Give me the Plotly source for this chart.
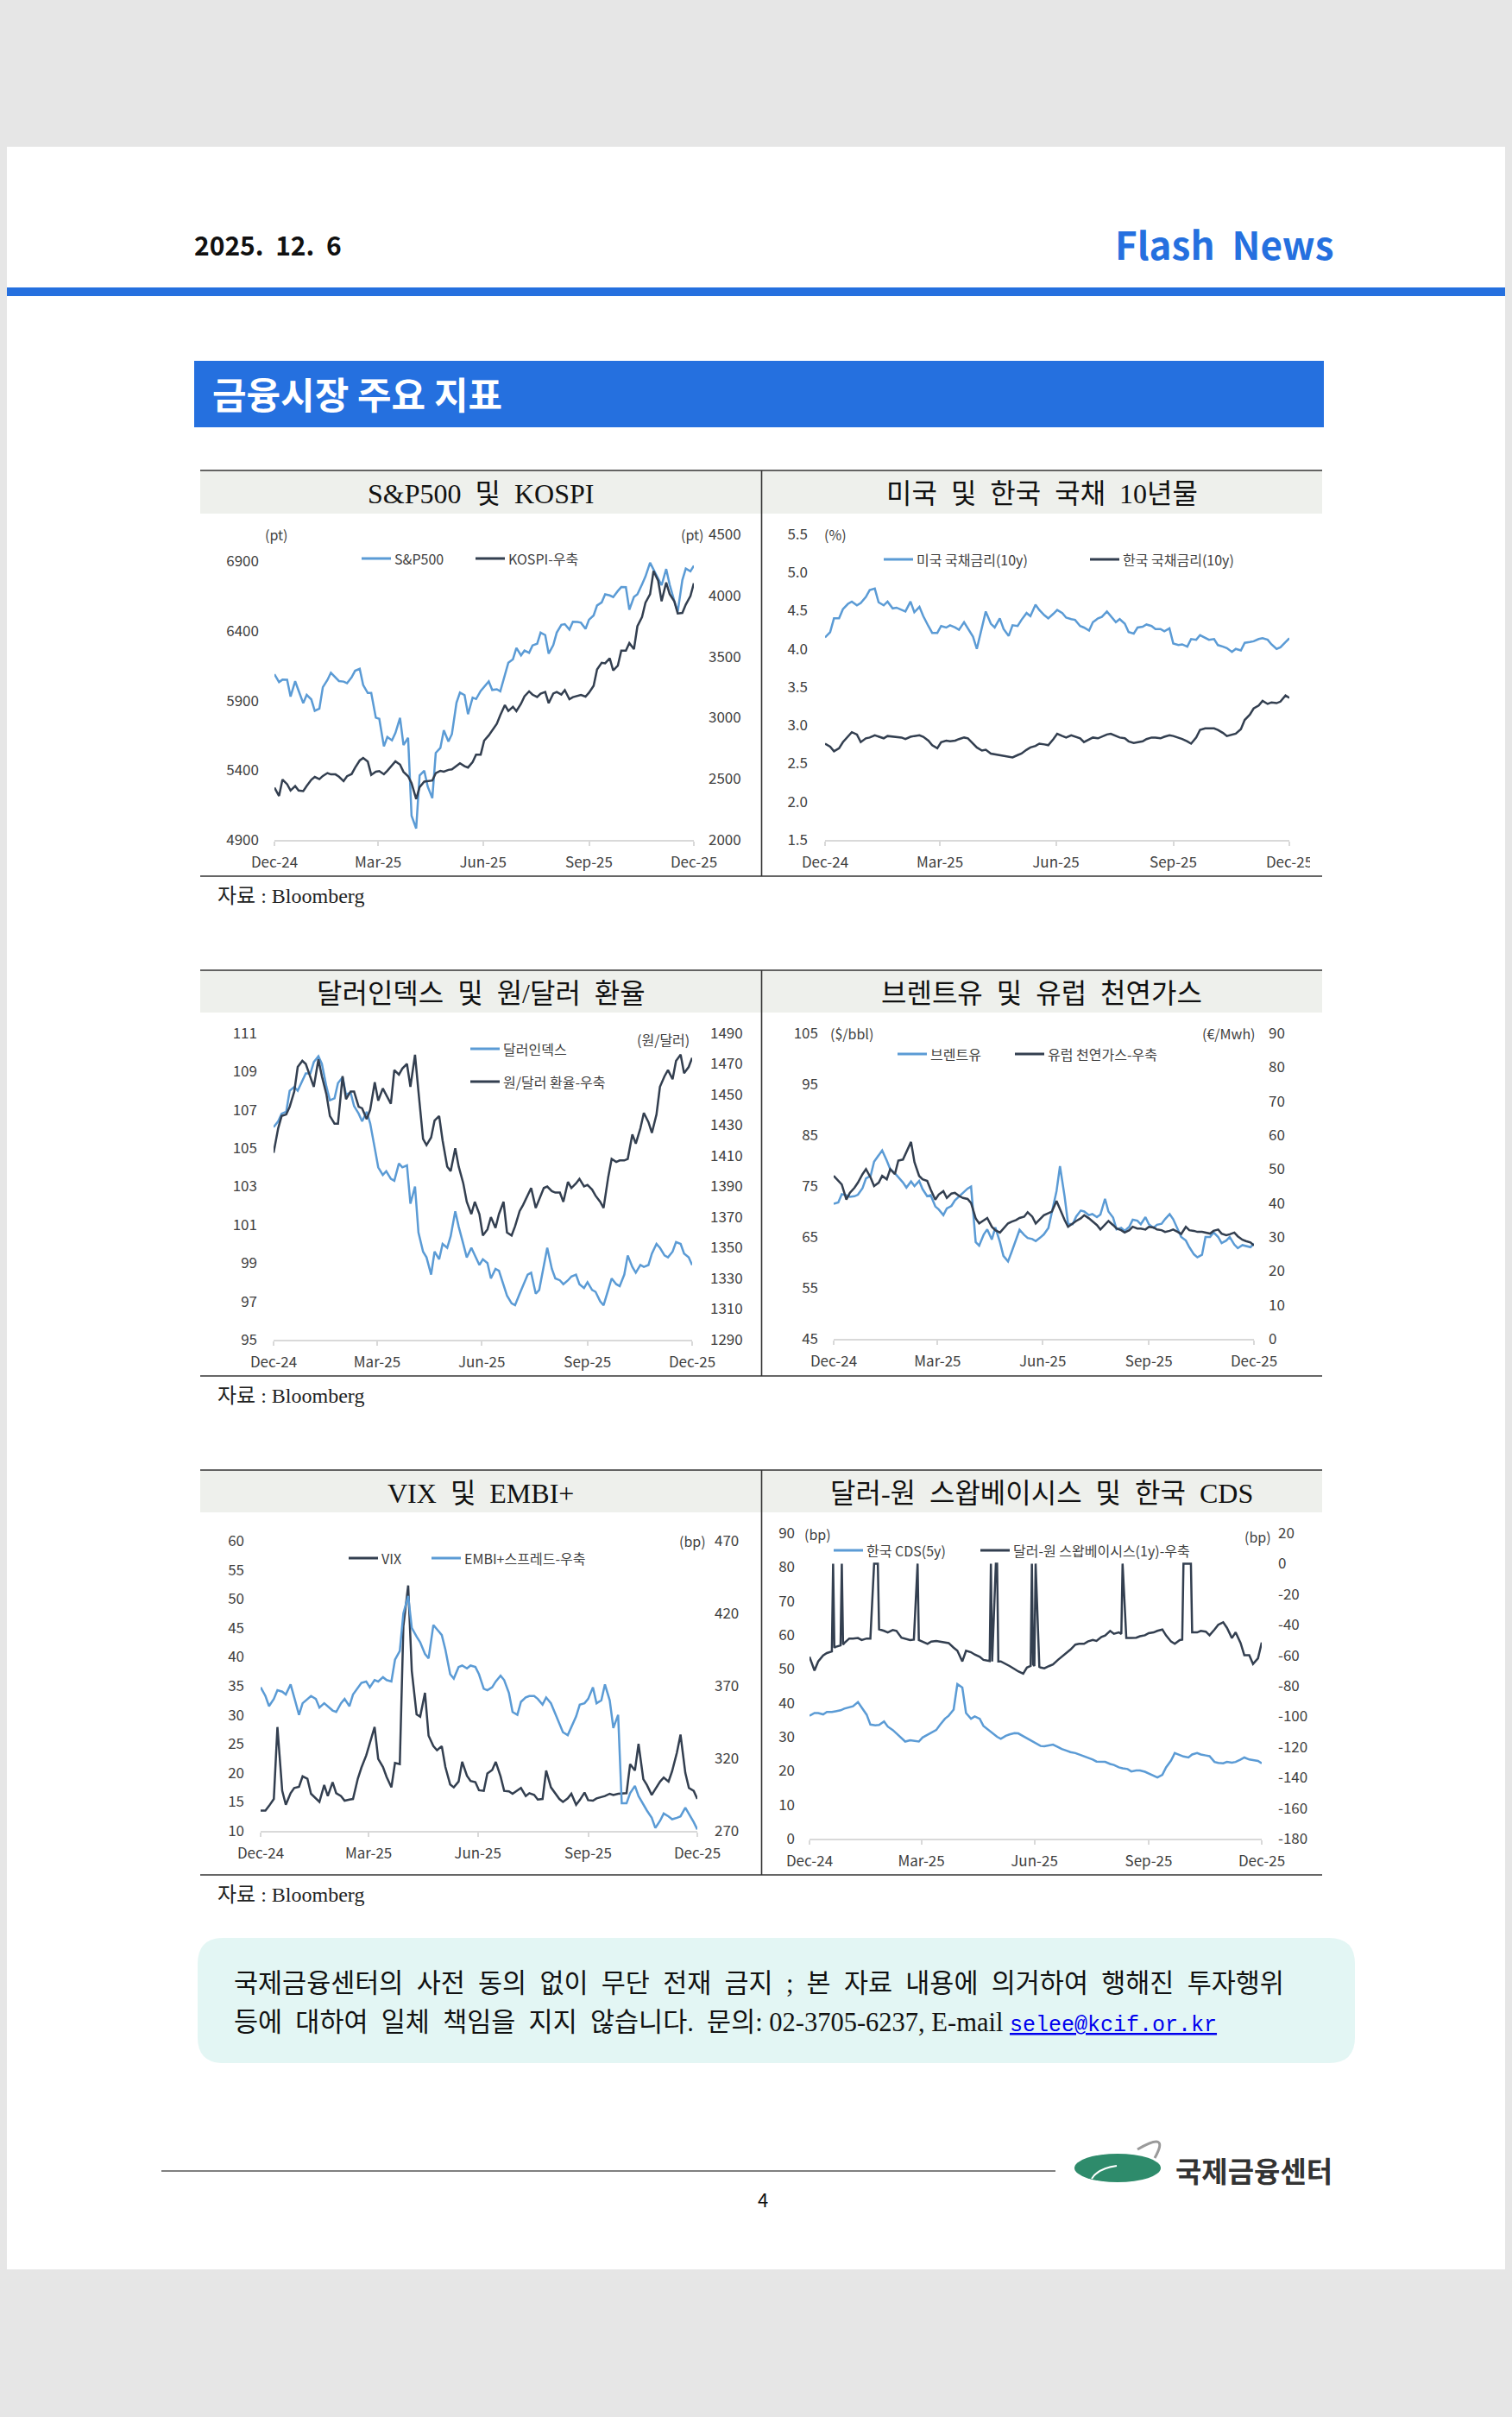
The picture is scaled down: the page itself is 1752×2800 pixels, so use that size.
import pandas as pd
import plotly.graph_objects as go

W, H = 1752, 2800
OFF = 8  # the page body offsets the figure by its default margin

# ---------------- categories (dates) ----------------
DATES = pd.date_range("2024-12-06", "2025-12-05", freq="W-FRI").union(
    pd.date_range("2024-12-06", "2025-12-05", freq="W-TUE"))
X_RANGE = ["2024-12-06", "2025-12-05"]
X_TICKS = ["2024-12-06", "2025-03-06", "2025-06-05", "2025-09-05", "2025-12-05"]
X_LABELS = ["Dec-24", "Mar-25", "Jun-25", "Sep-25", "Dec-25"]

# ---------------- chart 1: S&P500 / KOSPI ----------------
SPX = [6090, 6034, 6051, 6050, 5930, 6040, 5971, 5882, 5942, 5909,
       5827, 5843, 5997, 6049, 6101, 6067, 6041, 6037, 6026, 6068,
       6115, 6129, 6013, 5955, 5955, 5778, 5770, 5572, 5639, 5615,
       5668, 5777, 5581, 5633, 5074, 4982, 5363, 5397, 5283, 5200,
       5525, 5561, 5687, 5607, 5660, 5886, 5958, 5940, 5803, 5922,
       5912, 5970, 6000, 6038, 5977, 5982, 5968, 6092, 6173, 6198,
       6279, 6226, 6260, 6244, 6297, 6309, 6389, 6371, 6238, 6299,
       6389, 6445, 6450, 6411, 6467, 6466, 6460, 6416, 6482, 6512,
       6584, 6606, 6664, 6656, 6644, 6688, 6716, 6715, 6553, 6645,
       6664, 6736, 6792, 6891, 6840, 6771, 6729, 6846, 6734, 6617,
       6540, 6766, 6849, 6829, 6870]
KOSPI = [2428, 2360, 2494, 2456, 2404, 2440, 2404, 2399, 2441, 2492,
         2515, 2497, 2523, 2547, 2536, 2536, 2517, 2481, 2521, 2539,
         2591, 2650, 2670, 2641, 2532, 2558, 2563, 2537, 2566, 2612,
         2643, 2616, 2557, 2521, 2465, 2334, 2432, 2477, 2483, 2486,
         2546, 2565, 2559, 2573, 2577, 2608, 2627, 2603, 2592, 2637,
         2697, 2698, 2812, 2855, 2895, 2950, 3021, 3103, 3055, 3089,
         3054, 3114, 3175, 3215, 3188, 3169, 3196, 3210, 3119, 3198,
         3210, 3189, 3225, 3151, 3168, 3179, 3186, 3172, 3205, 3260,
         3395, 3449, 3445, 3486, 3386, 3425, 3549, 3549, 3610, 3561,
         3748, 3823, 3941, 4010, 4200, 4121, 3953, 4106, 4011, 3953,
         3853, 3857, 3926, 3995, 4100]
C1_LEFT_TICKS = [4900, 5400, 5900, 6400, 6900]
C1_RIGHT_TICKS = [2000, 2500, 3000, 3500, 4000, 4500]

# ---------------- chart 2: US / KR 10y ----------------
US10Y = [4.15, 4.22, 4.40, 4.40, 4.52, 4.59, 4.62, 4.57, 4.60, 4.68,
         4.77, 4.79, 4.61, 4.57, 4.62, 4.53, 4.54, 4.51, 4.49, 4.62,
         4.48, 4.55, 4.43, 4.30, 4.21, 4.21, 4.30, 4.28, 4.31, 4.28,
         4.25, 4.35, 4.27, 4.16, 4.00, 4.29, 4.49, 4.33, 4.28, 4.40,
         4.26, 4.17, 4.31, 4.30, 4.38, 4.47, 4.43, 4.58, 4.51, 4.44,
         4.40, 4.46, 4.51, 4.47, 4.41, 4.39, 4.38, 4.30, 4.28, 4.24,
         4.35, 4.40, 4.42, 4.49, 4.43, 4.35, 4.39, 4.33, 4.22, 4.20,
         4.28, 4.29, 4.32, 4.30, 4.26, 4.26, 4.23, 4.27, 4.07, 4.05,
         4.06, 4.03, 4.13, 4.12, 4.18, 4.15, 4.12, 4.13, 4.05, 4.03,
         4.01, 3.96, 4.00, 3.98, 4.08, 4.09, 4.10, 4.13, 4.14, 4.12,
         4.06, 4.00, 4.02, 4.09, 4.14]
KR10Y = [2.76, 2.72, 2.66, 2.70, 2.78, 2.86, 2.91, 2.88, 2.78, 2.83,
         2.84, 2.87, 2.85, 2.83, 2.86, 2.85, 2.85, 2.84, 2.82, 2.85,
         2.86, 2.87, 2.85, 2.80, 2.74, 2.70, 2.78, 2.80, 2.79, 2.80,
         2.82, 2.84, 2.83, 2.76, 2.71, 2.67, 2.68, 2.63, 2.62, 2.61,
         2.60, 2.59, 2.58, 2.61, 2.63, 2.68, 2.71, 2.73, 2.76, 2.75,
         2.74, 2.82, 2.89, 2.86, 2.84, 2.87, 2.85, 2.83, 2.78, 2.81,
         2.84, 2.83, 2.85, 2.88, 2.89, 2.86, 2.84, 2.83, 2.79, 2.77,
         2.78, 2.79, 2.82, 2.84, 2.84, 2.83, 2.85, 2.87, 2.86, 2.84,
         2.82, 2.79, 2.76, 2.84, 2.94, 2.96, 2.96, 2.96, 2.94, 2.90,
         2.86, 2.88, 2.89, 2.95, 3.07, 3.14, 3.22, 3.26, 3.32, 3.28,
         3.30, 3.29, 3.31, 3.39, 3.36]
C2_TICKS = [1.5, 2.0, 2.5, 3.0, 3.5, 4.0, 4.5, 5.0, 5.5]

# ---------------- chart 3: Dollar index / KRW ----------------
DXY = [106.1, 106.4, 106.8, 106.9, 108.0, 108.2, 108.0, 108.5, 108.9, 108.9,
       109.5, 109.8, 109.4, 108.2, 107.5, 107.6, 108.4, 108.7, 107.8, 107.9,
       107.2, 106.8, 106.4, 106.9, 106.3, 105.0, 104.0, 103.6, 103.8, 103.4,
       103.3, 104.2, 104.0, 104.1, 102.1, 103.0, 100.6, 99.6, 99.3, 98.4,
       99.6, 99.2, 100.0, 99.8, 100.4, 101.7, 100.9, 100.0, 99.3, 99.8,
       99.4, 98.9, 99.2, 99.0, 98.2, 98.7, 98.6, 97.8, 97.3, 96.9,
       96.8, 97.4, 97.8, 98.4, 98.5, 97.4, 97.6, 98.8, 99.8, 98.7,
       98.2, 98.1, 97.9, 98.1, 98.3, 98.4, 97.9, 97.7, 98.0, 97.6,
       97.5, 97.0, 96.8, 97.6, 98.2, 97.9, 97.8, 98.4, 99.4, 98.8,
       98.5, 98.9, 98.8, 98.9, 99.5, 100.0, 99.8, 99.4, 99.3, 99.6,
       100.1, 100.0, 99.5, 99.3, 98.9]
KRW = [1412, 1428, 1436, 1437, 1442, 1452, 1468, 1472, 1470, 1462,
       1455, 1473, 1462, 1450, 1436, 1431, 1431, 1462, 1447, 1452,
       1452, 1442, 1441, 1434, 1440, 1458, 1446, 1454, 1450, 1444,
       1466, 1463, 1467, 1470, 1455, 1476, 1452, 1421, 1417, 1422,
       1433, 1436, 1420, 1403, 1400, 1415, 1403, 1392, 1380, 1372,
       1380, 1372, 1358, 1362, 1370, 1363, 1372, 1380, 1360, 1358,
       1364, 1374, 1378, 1384, 1389, 1376, 1382, 1389, 1390, 1387,
       1386, 1386, 1380, 1393, 1389, 1392, 1395, 1390, 1391, 1388,
       1384, 1380, 1376, 1396, 1408, 1406, 1407, 1407, 1408, 1424,
       1418, 1428, 1438, 1432, 1425, 1437, 1455, 1462, 1466, 1460,
       1472, 1476, 1464, 1468, 1474]
C3_LEFT_TICKS = [95, 97, 99, 101, 103, 105, 107, 109, 111]
C3_RIGHT_TICKS = [1290, 1310, 1330, 1350, 1370, 1390, 1410, 1430, 1450, 1470, 1490]

# ---------------- chart 4: Brent / EU gas ----------------
BRENT = [71.5, 71.8, 73.4, 73.2, 72.9, 73.0, 73.3, 74.6, 76.5, 77.0,
         79.8, 81.0, 82.0, 80.0, 78.3, 77.5, 76.8, 75.7, 74.7, 75.9,
         75.0, 76.0, 74.4, 73.0, 73.2, 71.0, 70.4, 69.3, 70.6, 71.1,
         72.2, 73.0, 73.6, 74.5, 74.9, 64.0, 63.3, 65.5, 66.5, 64.5,
         66.9, 64.0, 61.3, 60.2, 62.0, 64.5, 66.4, 65.4, 64.8, 64.6,
         64.2, 64.9, 65.5, 66.8, 69.8, 74.0, 78.9, 73.0, 67.6, 67.5,
         69.0, 70.2, 70.0, 69.3, 69.5, 68.9, 69.4, 72.5, 70.0, 68.8,
         66.5, 66.8, 66.2, 67.0, 68.4, 68.2, 67.5, 68.9, 67.5, 66.8,
         67.4, 67.6, 68.5, 69.5, 68.5, 66.5, 65.0, 64.3, 63.0, 61.6,
         61.0, 61.5, 65.0, 65.0, 65.9, 65.0, 63.8, 64.3, 65.0, 63.5,
         62.8, 63.4, 63.2, 63.0, 63.7]
GAS = [48.0, 46.5, 45.5, 41.0, 43.0, 44.5, 46.0, 48.5, 50.0, 47.5,
       45.0, 46.0, 48.0, 47.0, 50.0, 48.5, 52.5, 52.8, 55.0, 58.0,
       52.0, 48.0, 47.0, 46.5, 44.0, 41.0, 42.5, 43.5, 41.5, 42.8,
       43.0, 42.0, 41.5, 41.2, 40.0, 35.5, 34.0, 35.0, 35.6, 33.0,
       32.0, 31.3, 32.5, 34.0, 34.5, 35.0, 35.6, 36.0, 37.3, 36.0,
       34.0, 35.5, 36.4, 37.0, 37.5, 40.6, 38.0, 35.0, 33.0, 34.0,
       34.7, 35.5, 36.4, 35.5, 34.7, 33.5, 32.2, 33.5, 34.7, 33.5,
       32.5, 32.0, 31.3, 32.0, 33.0, 32.5, 32.5, 32.2, 33.0, 32.8,
       32.2, 32.0, 31.5, 31.8, 32.2, 31.5, 30.9, 33.0, 32.0, 31.8,
       31.5, 31.5, 31.3, 31.0, 31.8, 32.2, 31.0, 30.5, 30.8, 31.3,
       30.2, 29.2, 28.8, 28.4, 27.5]
C4_LEFT_TICKS = [45, 55, 65, 75, 85, 95, 105]
C4_RIGHT_TICKS = [0, 10, 20, 30, 40, 50, 60, 70, 80, 90]

# ---------------- chart 5: VIX / EMBI+ ----------------
VIX = [13.5, 13.5, 14.3, 15.5, 27.9, 16.9, 14.5, 16.5, 17.4, 17.6,
       19.4, 19.0, 16.4, 15.6, 15.0, 17.9, 16.0, 18.4, 16.5, 16.0,
       15.2, 15.4, 15.5, 19.0, 20.9, 23.0, 25.0, 27.9, 22.4, 21.0,
       19.3, 17.5, 21.7, 21.5, 45.3, 52.3, 37.6, 30.1, 29.7, 33.8,
       26.4, 24.6, 23.9, 24.6, 21.0, 18.0, 17.5, 18.5, 21.9, 19.5,
       18.6, 18.4, 17.0, 16.9, 19.9, 20.5, 21.9, 19.4, 16.9, 16.8,
       16.4, 17.0, 17.4, 16.0, 16.5, 16.2, 15.4, 15.5, 20.4, 17.5,
       16.6, 15.5, 15.0, 15.6, 16.4, 14.5, 15.3, 16.6, 15.3, 15.2,
       15.6, 15.8, 16.0, 16.4, 16.2, 16.4, 16.4, 16.5, 21.5, 20.4,
       25.0, 18.9, 17.9, 16.2, 17.2, 18.5, 19.2, 18.5, 20.3, 23.5,
       26.6, 20.0, 17.4, 16.9, 15.5]
EMBI = [369, 363, 356, 361, 367, 366, 364, 371, 362, 350,
        358, 361, 363, 361, 355, 358, 356, 353, 352, 358,
        361, 356, 364, 369, 372, 373, 369, 374, 373, 376,
        374, 373, 388, 394, 420, 432, 410, 404, 400, 392,
        389, 412, 409, 405, 395, 378, 375, 383, 384, 382,
        384, 383, 378, 368, 367, 369, 373, 377, 374, 365,
        352, 350, 359, 362, 363, 363, 361, 357, 362, 358,
        352, 344, 338, 336, 342, 349, 357, 358, 361, 369,
        358, 360, 371, 360, 341, 350, 289, 289, 296, 301,
        294, 288, 284, 279, 272, 277, 282, 280, 278, 279,
        280, 286, 282, 276, 271]
C5_LEFT_TICKS = [10, 15, 20, 25, 30, 35, 40, 45, 50, 55, 60]
C5_RIGHT_TICKS = [270, 320, 370, 420, 470]

# ---------------- chart 6: Korea CDS / swap basis ----------------
CDS = [36.2, 37.0, 37.0, 36.6, 37.3, 37.3, 37.5, 37.8, 38.3, 38.6,
       39.0, 40.2, 38.7, 36.5, 33.6, 33.4, 33.5, 34.5, 33.0, 32.0,
       31.0, 29.5, 28.6, 29.0, 28.8, 28.6, 29.8, 30.6, 31.3, 32.0,
       33.5, 35.3, 36.2, 38.0, 45.5, 44.5, 37.0, 35.3, 36.0, 35.3,
       33.2, 32.0, 31.1, 30.0, 29.4, 30.3, 30.7, 31.1, 31.0, 30.2,
       29.5, 28.7, 28.0, 27.3, 27.2, 27.4, 27.7, 27.0, 26.4, 25.9,
       25.5, 25.2, 24.8, 24.3, 23.8, 23.3, 22.7, 22.6, 22.6, 22.0,
       21.7, 21.0, 20.7, 20.5, 19.8, 20.1, 20.1, 19.7, 19.1, 18.5,
       18.0, 18.8, 21.0, 23.0, 25.2, 24.6, 24.2, 23.9, 24.8, 25.2,
       24.8, 24.5, 24.3, 22.6, 22.3, 22.2, 22.6, 22.4, 22.6, 23.3,
       23.9, 23.3, 23.1, 22.9, 22.2]
SWAP_DATES = ["2024-12-06", "2024-12-10", "2024-12-13", "2024-12-17", "2024-12-20",
              "2024-12-24", "2024-12-25", "2024-12-26", "2024-12-27", "2024-12-31",
              "2025-01-01", "2025-01-02", "2025-01-03", "2025-01-07", "2025-01-10",
              "2025-01-14", "2025-01-17", "2025-01-21", "2025-01-24", "2025-01-27",
              "2025-01-30", "2025-01-31", "2025-02-04", "2025-02-07", "2025-02-11",
              "2025-02-14", "2025-02-18", "2025-02-21", "2025-02-25", "2025-02-28",
              "2025-03-03", "2025-03-04", "2025-03-07", "2025-03-11", "2025-03-14",
              "2025-03-18", "2025-03-21", "2025-03-25", "2025-03-28", "2025-04-01",
              "2025-04-04", "2025-04-08", "2025-04-11", "2025-04-15", "2025-04-18",
              "2025-04-22", "2025-04-25", "2025-04-30", "2025-05-01", "2025-05-02",
              "2025-05-05", "2025-05-06", "2025-05-07", "2025-05-09", "2025-05-13",
              "2025-05-16", "2025-05-20", "2025-05-23", "2025-05-27", "2025-05-30",
              "2025-06-02", "2025-06-03", "2025-06-04", "2025-06-05", "2025-06-06",
              "2025-06-09", "2025-06-10", "2025-06-13", "2025-06-17", "2025-06-20",
              "2025-06-24", "2025-06-27", "2025-07-01", "2025-07-04", "2025-07-08",
              "2025-07-11", "2025-07-15", "2025-07-18", "2025-07-22", "2025-07-25",
              "2025-07-29", "2025-08-01", "2025-08-05", "2025-08-08", "2025-08-12",
              "2025-08-14", "2025-08-15", "2025-08-18", "2025-08-22", "2025-08-26",
              "2025-08-29", "2025-09-02", "2025-09-05", "2025-09-09", "2025-09-12",
              "2025-09-16", "2025-09-19", "2025-09-23", "2025-09-26", "2025-09-30",
              "2025-10-02", "2025-10-03", "2025-10-09", "2025-10-10", "2025-10-14",
              "2025-10-17", "2025-10-21", "2025-10-24", "2025-10-28", "2025-10-31",
              "2025-11-04", "2025-11-07", "2025-11-11", "2025-11-14", "2025-11-18",
              "2025-11-21", "2025-11-25", "2025-11-28", "2025-12-02", "2025-12-05"]
SWAP = [-61, -70, -64, -60, -58.5,
        -57.5, 0, -55, -54.5, -53.5,
        0, -53, -52, -49, -49,
        -48.7, -50, -49, -49, 0,
        0, -43, -44, -45, -43.5,
        -44, -48.5, -49, -50, -49.7,
        0, -50, -51, -52.5, -51,
        -50.6, -51, -51.5, -52, -55,
        -57, -64, -57, -58, -59.5,
        -61, -63, -63.8, 0, -64,
        0, 0, -64, -64, -65.5,
        -67, -69, -70.5, -72, -68,
        -67, 0, -66, -67, 0,
        -67.6, -68, -68.5, -67, -66,
        -63, -61, -58, -56.3, -53,
        -52.5, -52.5, -51, -50, -50.6,
        -48, -47, -44, -45.9, -45,
        -46, 0, -48.7, -48.7, -48.5,
        -47.5, -46.9, -45.5, -45, -44,
        -43.1, -47, -51, -52.5, -50,
        -49.7, 0, 0, -45, -45,
        -44, -44.5, -46.9, -43.1, -40,
        -38.4, -42, -48.7, -45, -52,
        -60, -60, -65.7, -62, -51.6]
C6_LEFT_TICKS = [0, 10, 20, 30, 40, 50, 60, 70, 80, 90]
C6_RIGHT_TICKS = [-180, -160, -140, -120, -100, -80, -60, -40, -20, 0, 20]

for s in (SPX, KOSPI, US10Y, KR10Y, DXY, KRW, BRENT, GAS, VIX, EMBI, CDS):
    assert len(s) == len(DATES), len(s)
assert len(SWAP) == len(SWAP_DATES)

# ---------------- style ----------------
SANS = "Noto Sans CJK KR, Noto Sans, sans-serif"
SERIF = "Liberation Serif, Noto Sans CJK KR, serif"
LIGHT = "#5b9bd5"
DARK = "#333f50"
TICKC = "#404040"
BLUE = "#2570df"
PAGE_BG = "#e6e6e6"


def fx(v):
    return (v - OFF) / W


def fy(v):
    return 1 - (v - OFF) / H


fig = go.Figure()
layout = dict(width=W, height=H,
              margin=dict(l=0, r=0, t=0, b=0, pad=0, autoexpand=False),
              paper_bgcolor=PAGE_BG, plot_bgcolor="rgba(0,0,0,0)",
              showlegend=False, font=dict(family=SANS))
shapes = []
annotations = []


def text(t, x, y, size, color="#222", family=SANS, xanchor="left", yanchor="middle"):
    annotations.append(dict(text=t, x=fx(x), y=fy(y), xref="paper", yref="paper",
                            showarrow=False, xanchor=xanchor, yanchor=yanchor,
                            font=dict(size=size, color=color, family=family)))


def rect(x0, y0, x1, y1, fill, layer="below"):
    shapes.append(dict(type="rect", xref="paper", yref="paper", x0=fx(x0), x1=fx(x1),
                       y0=fy(y0), y1=fy(y1), fillcolor=fill, line=dict(width=0), layer=layer))


def hline(x0, x1, y, color, width, layer="above"):
    shapes.append(dict(type="line", xref="paper", yref="paper", x0=fx(x0), x1=fx(x1),
                       y0=fy(y), y1=fy(y), line=dict(color=color, width=width), layer=layer))


def vline(x, y0, y1, color, width, layer="above"):
    shapes.append(dict(type="line", xref="paper", yref="paper", x0=fx(x), x1=fx(x),
                       y0=fy(y0), y1=fy(y1), line=dict(color=color, width=width), layer=layer))


def axname(kind, n):
    return kind + ("" if n == 1 else str(n))


def labels(ticks, fmt="{:g}"):
    return [fmt.format(v) for v in ticks]


def setup_chart(n, x0, x1, yt, yb, lrange, lticks, lfmt, lstand,
                rrange=None, rticks=None, rstand=0):
    xid = axname("x", n)
    lid = axname("y", 2 * n - 1)
    rid = axname("y", 2 * n)
    layout[axname("xaxis", n)] = dict(
        domain=[fx(x0), fx(x1)], anchor=lid, type="date", range=X_RANGE,
        tickvals=X_TICKS, ticktext=X_LABELS, showgrid=False, zeroline=False,
        showline=True, linecolor="#d9d9d9", linewidth=2, ticks="outside",
        ticklen=5, tickwidth=2, tickcolor="#d9d9d9", ticklabelstandoff=5,
        automargin=False,
        tickfont=dict(size=17, color=TICKC, family=SANS), fixedrange=True)
    layout[axname("yaxis", 2 * n - 1)] = dict(
        domain=[fy(yb), fy(yt)], anchor=xid, range=lrange, tickvals=lticks,
        ticktext=labels(lticks, lfmt), showgrid=False, zeroline=False, showline=False,
        ticks="", ticklabelstandoff=lstand, automargin=False,
        tickfont=dict(size=17, color=TICKC, family=SANS), fixedrange=True)
    if rrange is not None:
        layout[axname("yaxis", 2 * n)] = dict(
            domain=[fy(yb), fy(yt)], anchor=xid, overlaying=lid, side="right",
            range=rrange, tickvals=rticks, ticktext=labels(rticks), showgrid=False,
            zeroline=False, showline=False, ticks="", ticklabelstandoff=rstand,
            automargin=False,
            tickfont=dict(size=17, color=TICKC, family=SANS), fixedrange=True)
    return xid, lid, rid


def line(xs, ys, xid, yid, color):
    fig.add_trace(go.Scatter(x=xs, y=ys, xaxis=xid, yaxis=yid, mode="lines",
                             line=dict(color=color, width=2.5), hoverinfo="skip",
                             showlegend=False))


def legend_item(x, y, label, color):
    hline(x, x + 34, y, color, 3)
    text(label, x + 36, y, 16, TICKC)


# ---------------- page chrome ----------------
rect(5, 170, 1745, 2629, "white")
text("<b>2025.  12.  6</b>", 223, 283, 30, "#111")
text("<b>Flash  News</b>", 1548, 282, 44, BLUE, xanchor="right")
rect(5, 333, 1745, 343, BLUE)
rect(225, 418, 1534, 495, BLUE)
text("<b>금융시장 주요 지표</b>", 244, 455, 43, "white")

ROWS = [(545, 595, 1015), (1124, 1173, 1594), (1703, 1752, 2172)]
for top, bar, bot in ROWS:
    rect(232, top, 1532, bar, "#eef0ec")
    hline(232, 1532, top, "#333", 1.6)
    hline(232, 1532, bot, "#333", 1.6)
    vline(882.5, top, bot, "#333", 1.6)
    text("자료 : Bloomberg", 250, bot + 23, 24, "#222", SERIF)

TITLES = [("S&P500  및  KOSPI", 557, 572), ("미국  및  한국  국채  10년물", 1207, 572),
          ("달러인덱스  및  원/달러  환율", 557, 1151), ("브렌트유  및  유럽  천연가스", 1207, 1151),
          ("VIX  및  EMBI+", 557, 1730), ("달러-원  스왑베이시스  및  한국  CDS", 1207, 1730)]
for t, x, y in TITLES:
    text(t, x, y, 32, "#111", SERIF, xanchor="center")

# ---------------- chart 1 ----------------
xid, lid, rid = setup_chart(1, 318, 804, 619, 973, [4900, 7095], C1_LEFT_TICKS, "{:d}", 17,
                            [2000, 4500], C1_RIGHT_TICKS, 16)
line(DATES, SPX, xid, lid, LIGHT)
line(DATES, KOSPI, xid, rid, DARK)
text("(pt)", 305, 619, 16, TICKC)
text("(pt)", 787, 619, 16, TICKC)
legend_item(419, 647, "S&P500", LIGHT)
legend_item(551, 647, "KOSPI-우축", DARK)

# ---------------- chart 2 ----------------
xid, lid, rid = setup_chart(2, 956, 1494, 619, 973, [1.5, 5.5], C2_TICKS, "{:.1f}", 19)
line(DATES, US10Y, xid, lid, LIGHT)
line(DATES, KR10Y, xid, lid, DARK)
text("(%)", 953, 619, 16, TICKC)
legend_item(1024, 648, "미국 국채금리(10y)", LIGHT)
legend_item(1263, 648, "한국 국채금리(10y)", DARK)
rect(1518, 985, 1531, 1012, "white", layer="above")

# ---------------- chart 3 ----------------
xid, lid, rid = setup_chart(3, 317, 802, 1197, 1552, [95, 111], C3_LEFT_TICKS, "{:d}", 18,
                            [1290, 1490], C3_RIGHT_TICKS, 20)
line(DATES, DXY, xid, lid, LIGHT)
line(DATES, KRW, xid, rid, DARK)
text("(원/달러)", 736, 1204, 16, TICKC)
legend_item(545, 1215, "달러인덱스", LIGHT)
legend_item(545, 1253, "원/달러 환율-우축", DARK)

# ---------------- chart 4 ----------------
xid, lid, rid = setup_chart(4, 966, 1453, 1197, 1551, [45, 105], C4_LEFT_TICKS, "{:d}", 17,
                            [0, 90], C4_RIGHT_TICKS, 16)
line(DATES, BRENT, xid, lid, LIGHT)
line(DATES, GAS, xid, rid, DARK)
text("($/bbl)", 960, 1197, 16, TICKC)
text("(€/Mwh)", 1391, 1197, 16, TICKC)
legend_item(1040, 1221, "브렌트유", LIGHT)
legend_item(1176, 1221, "유럽 천연가스-우축", DARK)

# ---------------- chart 5 ----------------
xid, lid, rid = setup_chart(5, 302, 808, 1785, 2121, [10, 60], C5_LEFT_TICKS, "{:d}", 18,
                            [270, 470], C5_RIGHT_TICKS, 19)
line(DATES, VIX, xid, lid, DARK)
line(DATES, EMBI, xid, rid, LIGHT)
text("(bp)", 785, 1785, 16, TICKC)
legend_item(404, 1805, "VIX", DARK)
legend_item(500, 1805, "EMBI+스프레드-우축", LIGHT)

# ---------------- chart 6 ----------------
xid, lid, rid = setup_chart(6, 938, 1462, 1776, 2130, [0, 90], C6_LEFT_TICKS, "{:d}", 16,
                            [-180, 20], C6_RIGHT_TICKS, 18)
line(DATES, CDS, xid, lid, LIGHT)
line(pd.to_datetime(SWAP_DATES), SWAP, xid, rid, DARK)
text("(bp)", 930, 1777, 16, TICKC)
text("(bp)", 1440, 1780, 16, TICKC)
legend_item(966, 1796, "한국 CDS(5y)", LIGHT)
legend_item(1136, 1796, "달러-원 스왑베이시스(1y)-우축", DARK)

# ---------------- notice box ----------------
x0, y0, x1, y1, r = 229, 2245, 1570, 2390, 30
path = (f"M {fx(x0 + r)},{fy(y0)} L {fx(x1 - r)},{fy(y0)} Q {fx(x1)},{fy(y0)} {fx(x1)},{fy(y0 + r)} "
        f"L {fx(x1)},{fy(y1 - r)} Q {fx(x1)},{fy(y1)} {fx(x1 - r)},{fy(y1)} "
        f"L {fx(x0 + r)},{fy(y1)} Q {fx(x0)},{fy(y1)} {fx(x0)},{fy(y1 - r)} "
        f"L {fx(x0)},{fy(y0 + r)} Q {fx(x0)},{fy(y0)} {fx(x0 + r)},{fy(y0)} Z")
shapes.append(dict(type="path", xref="paper", yref="paper", path=path,
                   fillcolor="#e3f6f4", line=dict(width=0), layer="below"))
text("국제금융센터의  사전  동의  없이  무단  전재  금지  ;  본  자료  내용에  의거하여  행해진  투자행위",
     269, 2298, 30.5, "#111", SERIF)
text("등에  대하여  일체  책임을  지지  않습니다.  문의: 02-3705-6237, E-mail "
     "<span style='color:#0000ee;text-decoration:underline;font-family:Liberation Mono;"
     "font-size:25px'>selee@kcif.or.kr</span>",
     269, 2343, 30.5, "#111", SERIF)

# ---------------- footer ----------------
hline(187, 1223, 2515, "#808080", 2)
text("4", 884, 2547, 22, "#111", xanchor="center")
shapes.append(dict(type="circle", xref="paper", yref="paper", x0=fx(1245), x1=fx(1345),
                   y0=fy(2528), y1=fy(2495), fillcolor="#2e8b6b", line=dict(width=0)))
shapes.append(dict(type="path", xref="paper", yref="paper",
                   path=f"M {fx(1318)},{fy(2490)} Q {fx(1356)},{fy(2468)} {fx(1338)},{fy(2500)}",
                   line=dict(color="#9a9a9a", width=3)))
shapes.append(dict(type="path", xref="paper", yref="paper",
                   path=f"M {fx(1265)},{fy(2524)} Q {fx(1272)},{fy(2512)} {fx(1294)},{fy(2509)}",
                   line=dict(color="white", width=2)))
text("<b>국제금융센터</b>", 1360, 2514, 33, "#333")

layout["shapes"] = shapes
layout["annotations"] = annotations
fig.update_layout(**layout)
fig.write_html("out.html", config={"displayModeBar": False},
               post_script=f"document.body.style.background='{PAGE_BG}';")
